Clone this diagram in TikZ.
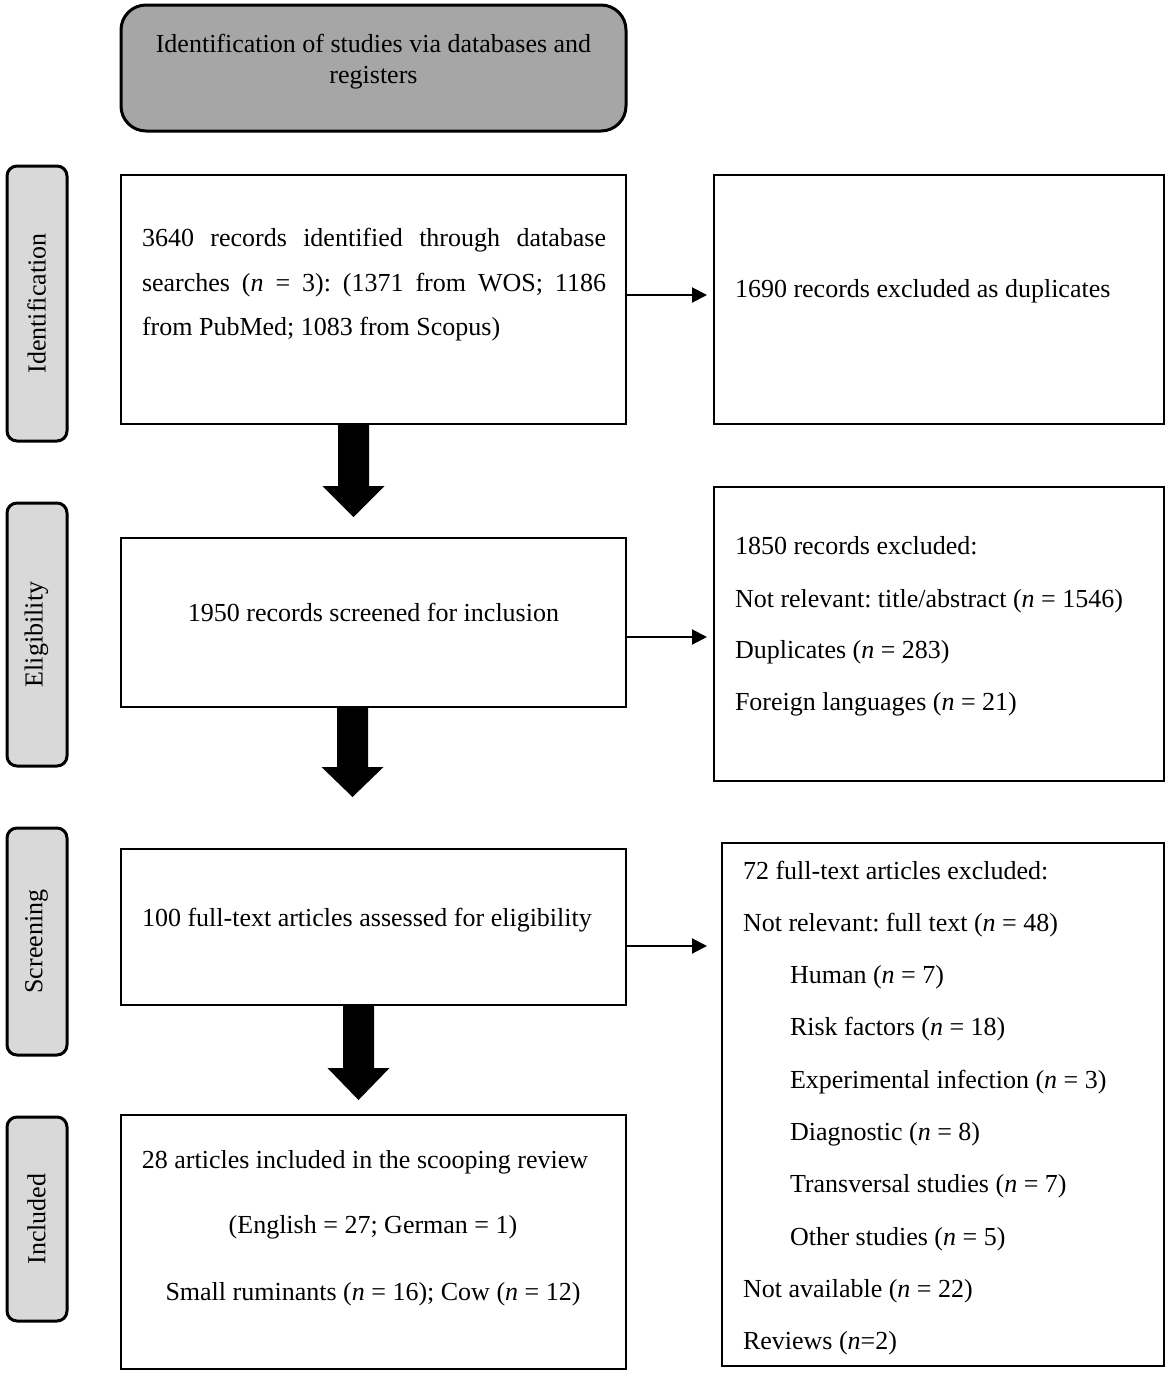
\documentclass[tikz,border=0pt]{standalone}
\usepackage{fontspec}
\setmainfont{Liberation Serif}
\usetikzlibrary{arrows.meta}
\definecolor{titlegray}{HTML}{A6A6A6}
\definecolor{labelgray}{HTML}{D9D9D9}
\frenchspacing
\begin{document}
\begin{tikzpicture}[x=1pt,y=-1pt,
  every node/.style={font=\fontsize{26}{31.2}\selectfont\frenchspacing, inner sep=0pt, outer sep=0pt},
  box/.style={draw, line width=2.4pt, anchor=north west},
  titlebox/.style={draw, line width=3pt, fill=titlegray, rounded corners=25pt, anchor=north west},
  sidelabel/.style={draw, line width=3pt, fill=labelgray, rounded corners=10pt, anchor=north west, minimum width=60pt},
  sidetext/.style={rotate=90, anchor=center},
  txt/.style={anchor=base west},
  ctxt/.style={anchor=base},
  conn/.style={line width=2pt, -{Triangle[length=15pt,width=15pt]}},
  bigarrow/.style={fill=black}
]
\useasboundingbox (0,0) rectangle (1169,1374);

% title
\node[titlebox, minimum width=505pt, minimum height=126pt] (title) at (121,5) {};
\node[ctxt] (title1) at (373.5,52) {Identification of studies via databases and};
\node[ctxt] (title2) at (373.5,83) {registers};

% side labels
\node[sidelabel, minimum height=275pt] (lab1) at (7,166) {};
\node[sidelabel, minimum height=263pt] (lab2) at (7,503) {};
\node[sidelabel, minimum height=227pt] (lab3) at (7,828) {};
\node[sidelabel, minimum height=204pt] (lab4) at (7,1117) {};
\node[sidetext] (lab1t) at ([xshift=-0.5pt]lab1.center) {Identification};
\node[sidetext] (lab2t) at ([xshift=-0.5pt]lab2.center) {Eligibility};
\node[sidetext] (lab3t) at ([xshift=-0.5pt]lab3.center) {Screening};
\node[sidetext] (lab4t) at ([xshift=-0.5pt]lab4.center) {Included};

% left boxes
\node[box, minimum width=505pt, minimum height=249pt] (b1) at (121,175) {};
\node[box, minimum width=505pt, minimum height=169pt] (b2) at (121,538) {};
\node[box, minimum width=505pt, minimum height=156pt] (b3) at (121,849) {};
\node[box, minimum width=505pt, minimum height=254pt] (b4) at (121,1115) {};

% right boxes
\node[box, minimum width=450pt, minimum height=249pt] (r1) at (714,175) {};
\node[box, minimum width=450pt, minimum height=294pt] (r2) at (714,487) {};
\node[box, minimum width=442pt, minimum height=523pt] (r3) at (722,843) {};

% texts of left boxes
\node[txt] (b1l1) at (142,246) {\makebox[464pt][s]{3640 records identified through database}};
\node[txt] (b1l2) at (142,291) {\makebox[464pt][s]{searches (\textit{n} = 3): (1371 from WOS; 1186}};
\node[txt] (b1l3) at (142,335) {from PubMed; 1083 from Scopus)};
\node[ctxt] (b2l1) at (373.5,621) {1950 records screened for inclusion};
\node[txt] (b3l1) at (142,926) {100 full-text articles assessed for eligibility};
\node[ctxt] (b4l1) at (365,1168) {28 articles included in the scooping review};
\node[ctxt] (b4l2) at (373,1233) {(English = 27; German = 1)};
\node[ctxt] (b4l3) at (373,1300) {Small ruminants (\textit{n} = 16); Cow (\textit{n} = 12)};

% texts of right boxes
\node[txt] (r1l1) at (735,297) {1690 records excluded as duplicates};
\node[txt] (r2l1) at (735,554) {1850 records excluded:};
\node[txt] (r2l2) at (735,607) {Not relevant: title/abstract (\textit{n} = 1546)};
\node[txt] (r2l3) at (735,658) {Duplicates (\textit{n} = 283)};
\node[txt] (r2l4) at (735,710) {Foreign languages (\textit{n} = 21)};
\node[txt] (r3l1) at (743,879) {72 full-text articles excluded:};
\node[txt] (r3l2) at (743,931) {Not relevant: full text (\textit{n} = 48)};
\node[txt] (r3l3) at (790,983) {Human (\textit{n} = 7)};
\node[txt] (r3l4) at (790,1035) {Risk factors (\textit{n} = 18)};
\node[txt] (r3l5) at (790,1088) {Experimental infection (\textit{n} = 3)};
\node[txt] (r3l6) at (790,1140) {Diagnostic (\textit{n} = 8)};
\node[txt] (r3l7) at (790,1192) {Transversal studies (\textit{n} = 7)};
\node[txt] (r3l8) at (790,1245) {Other studies (\textit{n} = 5)};
\node[txt] (r3l9) at (743,1297) {Not available (\textit{n} = 22)};
\node[txt] (r3l10) at (743,1349) {Reviews (\textit{n}=2)};

% thin arrows
\coordinate (t1) at (707,295);
\coordinate (t2) at (707,637);
\coordinate (t3) at (707,946);
\draw[conn] (b1.east |- t1) -- (t1);
\draw[conn] (b2.east |- t2) -- (t2);
\draw[conn] (b3.east |- t3) -- (t3);

% big arrows
\coordinate (a1) at (b1.south -| 353.5,0);
\coordinate (a2) at (b2.south -| 352.5,0);
\coordinate (a3) at (b3.south -| 358.5,0);
\fill[bigarrow] (a1) ++(-15.5,0) -- ++(31,0) -- ++(0,62) -- ++(15.5,0) -- ++(-31,31) -- ++(-31,-31) -- ++(15.5,0) -- cycle;
\fill[bigarrow] (a2) ++(-15.5,0) -- ++(31,0) -- ++(0,60) -- ++(15.5,0) -- ++(-31,30) -- ++(-31,-30) -- ++(15.5,0) -- cycle;
\fill[bigarrow] (a3) ++(-15.5,0) -- ++(31,0) -- ++(0,63) -- ++(15.5,0) -- ++(-31,32) -- ++(-31,-32) -- ++(15.5,0) -- cycle;
\end{tikzpicture}
\end{document}
